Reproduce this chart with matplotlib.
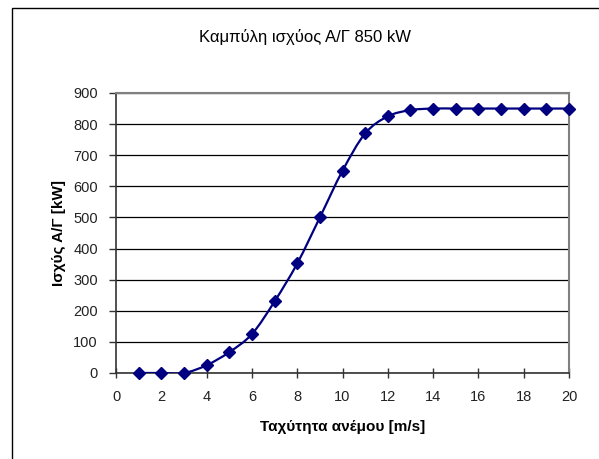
import numpy as np
import matplotlib.pyplot as plt
from matplotlib.path import Path
from matplotlib.patches import PathPatch, Rectangle

plt.rcParams['font.family'] = ['Liberation Sans', 'DejaVu Sans']

# wind speed [m/s] and power [kW]
wind_speed = [1, 2, 3, 4, 5, 6, 7, 8, 9, 10, 11, 12, 13, 14, 15, 16, 17, 18, 19, 20]
power = [0, 0, 0, 25, 67, 125, 230, 352, 500, 650, 770, 825, 845, 850, 850, 850, 850, 850, 850, 850]

title = 'Καμπύλη ισχύος Α/Γ 850 kW'
xlabel = 'Ταχύτητα ανέμου [m/s]'
ylabel = 'Ισχύς Α/Γ [kW]'

fig = plt.figure(figsize=(5.99, 4.59), dpi=100)
ax = fig.add_axes([0.1937, 0.1874, 0.7562, 0.61])

# outer chart frame (Excel style), open at right and bottom
fig.patches.append(Rectangle((12 / 599, -0.05), 1.2, 1 - 8 / 459 + 0.05,
                             transform=fig.transFigure, fill=False,
                             edgecolor='black', linewidth=1.0))

# smoothed line, Excel-like bezier through the points
pts = np.column_stack([wind_speed, power]).astype(float)
n = len(pts)
verts = [pts[0]]
codes = [Path.MOVETO]
for i in range(n - 1):
    p0 = pts[max(i - 1, 0)]
    p1 = pts[i]
    p2 = pts[i + 1]
    p3 = pts[min(i + 2, n - 1)]
    c1 = p1 + (p2 - p0) / 6.0
    c2 = p2 - (p3 - p1) / 6.0
    verts += [c1, c2, p2]
    codes += [Path.CURVE4] * 3
ax.add_patch(PathPatch(Path(verts, codes), facecolor='none',
                       edgecolor='#000080', linewidth=1.6, zorder=3))
ax.plot(wind_speed, power, linestyle='none', marker='D', markersize=6,
        color='#000080', zorder=4, clip_on=False)

ax.set_xlim(0, 20)
ax.set_ylim(0, 900)
ax.set_xticks(np.arange(0, 21, 2))
ax.set_yticks(np.arange(0, 901, 100))
ax.yaxis.grid(True, color='black', linewidth=0.9)
ax.set_axisbelow(True)

for s in ['top', 'right']:
    ax.spines[s].set_color('#808080')
    ax.spines[s].set_linewidth(1.5)
for s in ['left', 'bottom']:
    ax.spines[s].set_color('#333333')
    ax.spines[s].set_linewidth(1.2)

ax.tick_params(axis='y', direction='out', length=5, width=1, color='#333333',
               labelsize=10.5, labelcolor='#222222', pad=8)
ax.tick_params(axis='x', direction='inout', length=7, width=1, color='#333333',
               labelsize=10.5, labelcolor='#222222', pad=9)

ax.set_xlabel(xlabel, fontsize=11, fontweight='bold', labelpad=11)
ax.set_ylabel(ylabel, fontsize=11, fontweight='bold', labelpad=5)
fig.text(0.51, 1 - 37 / 459, title, ha='center', va='center', fontsize=12)

fig.savefig('out.png', dpi=100)
